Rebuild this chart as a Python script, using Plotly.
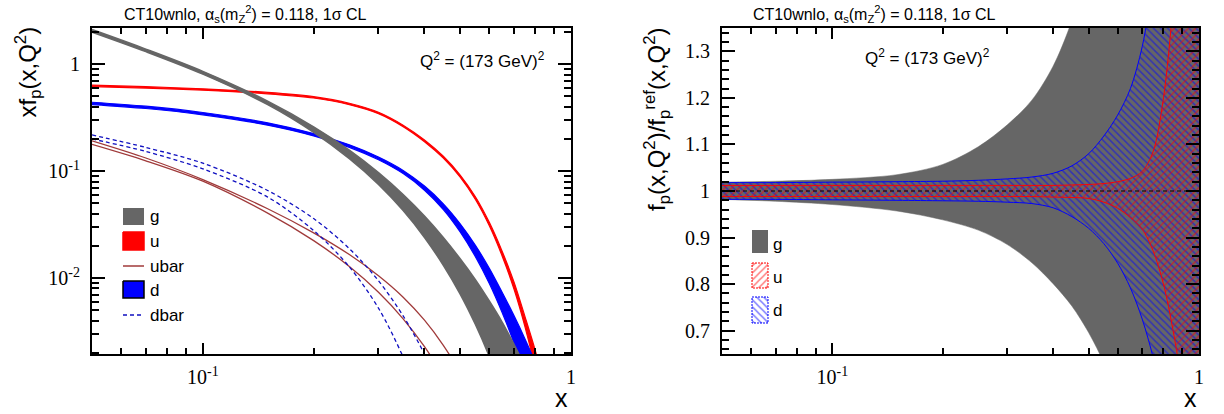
import math
import plotly.graph_objects as go

W, H = 1224, 414

# ---------------- data ----------------
# left panel: x f(x, Q^2)
x_pdf = [0.05, 0.07, 0.1, 0.15, 0.2, 0.25, 0.3, 0.35, 0.4, 0.45, 0.5,
         0.55, 0.6, 0.65, 0.7, 0.75, 0.8, 0.85, 0.9]
x_g = x_pdf[:16]
g_lo = [1.994, 1.31, 0.807, 0.419, 0.2304, 0.1305, 0.07504, 0.04275, 0.02397, 0.01316,
        0.00709, 0.00368, 0.001846, 0.000888, 0.000418, 0.000189]
g_hi = [2.108, 1.384, 0.857, 0.451, 0.2597, 0.1569, 0.09669, 0.06036, 0.038, 0.02395,
        0.01516, 0.00967, 0.00611, 0.00388, 0.002405, 0.001497]
u_lo = [0.6176, 0.5979, 0.5713, 0.5289, 0.4827, 0.4186, 0.3448, 0.2608, 0.1885, 0.1323,
        0.0878, 0.0543, 0.0308, 0.0161, 0.0079, 0.0035, 0.0014, 0.000476, 0.000114]
u_hi = [0.6364, 0.6161, 0.5887, 0.5451, 0.4974, 0.4314, 0.3553, 0.2692, 0.1955, 0.1377,
        0.092, 0.0576, 0.0332, 0.01785, 0.0092, 0.00436, 0.0021, 0.00094, 0.00032]
d_lo = [0.4193, 0.3851, 0.3364, 0.2691, 0.2135, 0.1669, 0.1277, 0.0948, 0.0663, 0.0437,
        0.0270, 0.01584, 0.00889, 0.00476, 0.00247, 0.00121, 0.000561, 0.000248, 0.000103]
d_hi = [0.4408, 0.4049, 0.3536, 0.2829, 0.2245, 0.1761, 0.1355, 0.1016, 0.0725, 0.0495,
        0.0322, 0.02025, 0.01233, 0.00736, 0.00446, 0.0027, 0.00163, 0.00099, 0.000586]
x_ubar = x_pdf[:12]
ubar_lo = [0.178, 0.125, 0.0806, 0.0405, 0.0224, 0.01283, 0.00737, 0.00416, 0.00228,
           0.00121, 0.000615, 0.0003]
ubar_hi = [0.192, 0.1327, 0.0834, 0.0445, 0.0265, 0.0166, 0.01052, 0.00663, 0.00404,
           0.00235, 0.0013, 0.00068]
x_dbar_lo = x_pdf[:9]
dbar_lo = [0.200, 0.1528, 0.105, 0.0572, 0.02785, 0.01274, 0.00523, 0.00183, 0.000588]
x_dbar_hi = x_pdf[:10]
dbar_hi = [0.218, 0.1666, 0.1187, 0.0659, 0.036, 0.01885, 0.00944, 0.00443, 0.00194, 0.00077]

# right panel: ratio to reference fit
x_ratio = [0.05, 0.07, 0.1, 0.15, 0.2, 0.25, 0.3, 0.35, 0.4, 0.45, 0.5,
           0.55, 0.6, 0.65, 0.7, 0.75, 0.8, 0.85, 0.9, 0.95, 1.0]
g_ratio_lo = [0.982, 0.978, 0.971, 0.957, 0.938, 0.916, 0.885, 0.846, 0.801, 0.753, 0.696,
              0.631, 0.554, 0.465, 0.364, 0.25, 0.115, 0.02, -0.1, -0.2, -0.3]
g_ratio_hi = [1.019, 1.021, 1.025, 1.035, 1.057, 1.095, 1.142, 1.195, 1.268, 1.366, 1.494,
              1.647, 1.835, 2.1, 2.4, 2.8, 3.2, 3.6, 4.0, 4.4, 4.8]
d_ratio_lo = [0.982, 0.982, 0.981, 0.980, 0.979, 0.978, 0.976, 0.973, 0.964, 0.945, 0.920,
              0.887, 0.845, 0.792, 0.725, 0.642, 0.54, 0.42, 0.28, 0.13, 0.0]
d_ratio_hi = [1.018, 1.018, 1.019, 1.020, 1.021, 1.023, 1.026, 1.030, 1.038, 1.054, 1.080,
              1.118, 1.163, 1.22, 1.31, 1.45, 1.62, 1.85, 2.1, 2.4, 2.7]
u_ratio_lo = [0.988, 0.988, 0.988, 0.988, 0.988, 0.988, 0.988, 0.988, 0.987, 0.986, 0.984,
              0.976, 0.963, 0.943, 0.918, 0.871, 0.80, 0.70, 0.58, 0.42, 0.21]
u_ratio_hi = [1.012, 1.012, 1.012, 1.012, 1.012, 1.012, 1.012, 1.012, 1.012, 1.013, 1.014,
              1.016, 1.020, 1.027, 1.042, 1.085, 1.2, 1.4, 1.65, 1.95, 2.3]
ratio_ref = [1.0, 1.0]
x_ref = [0.05, 1.0]

title_text = "CT10wnlo, α<sub>s</sub>(m<sub>Z</sub><sup>2</sup>) = 0.118, 1σ CL"
q2_text = "Q<sup>2</sup> = (173 GeV)<sup>2</sup>"

# ---------------- styles ----------------
GRAY = "#666666"
RED = "#ff0000"
BLUE = "#0000ff"
BROWN = "#a03a3a"
DBLUE = "#1010c0"
SANS = "Liberation Sans, Arial, sans-serif"
SERIF = "Liberation Serif, Times New Roman, serif"
SM = 0.9
HATCH_SOL = 0.3

fig = go.Figure()


def band(x, lo, hi, xa, ya, color, edge_w, fillcolor=None, pattern=None):
    fig.add_trace(go.Scatter(x=x, y=lo, mode="lines", xaxis=xa, yaxis=ya,
                             line=dict(color=color, width=edge_w, shape="spline", smoothing=SM),
                             showlegend=False, hoverinfo="skip"))
    kw = {}
    if pattern is not None:
        kw["fillpattern"] = pattern
    fig.add_trace(go.Scatter(x=x, y=hi, mode="lines", xaxis=xa, yaxis=ya, fill="tonexty",
                             fillcolor=fillcolor if fillcolor else "rgba(0,0,0,0)",
                             line=dict(color=color, width=edge_w, shape="spline", smoothing=SM),
                             showlegend=False, hoverinfo="skip", **kw))


def hatch(shape, color):
    return dict(shape=shape, fgcolor=color, bgcolor="rgba(0,0,0,0)", size=5,
                solidity=HATCH_SOL, fillmode="overlay")


# left panel
band(x_pdf, u_lo, u_hi, "x", "y", RED, 1.2, fillcolor=RED)
band(x_pdf, d_lo, d_hi, "x", "y", BLUE, 1.2, fillcolor=BLUE)
for xs, ys in ((x_ubar, ubar_lo), (x_ubar, ubar_hi)):
    fig.add_trace(go.Scatter(x=xs, y=ys, mode="lines", xaxis="x", yaxis="y",
                             line=dict(color=BROWN, width=1.3, shape="spline", smoothing=SM),
                             showlegend=False, hoverinfo="skip"))
for xs, ys in ((x_dbar_lo, dbar_lo), (x_dbar_hi, dbar_hi)):
    fig.add_trace(go.Scatter(x=xs, y=ys, mode="lines", xaxis="x", yaxis="y",
                             line=dict(color=DBLUE, width=1.3, dash="4px,3px", shape="spline", smoothing=SM),
                             showlegend=False, hoverinfo="skip"))
band(x_g, g_lo, g_hi, "x", "y", GRAY, 1.5, fillcolor=GRAY)

# right panel
band(x_ratio, g_ratio_lo, g_ratio_hi, "x2", "y2", GRAY, 0.5, fillcolor=GRAY)
band(x_ratio, d_ratio_lo, d_ratio_hi, "x2", "y2", BLUE, 1.0, pattern=hatch("\\", BLUE))
band(x_ratio, u_ratio_lo, u_ratio_hi, "x2", "y2", RED, 1.0, pattern=hatch("/", RED))
fig.add_trace(go.Scatter(x=x_ref, y=ratio_ref, mode="lines", xaxis="x2", yaxis="y2",
                         line=dict(color="black", width=1, dash="4px,3px"),
                         showlegend=False, hoverinfo="skip"))


# ---------------- legends (pixel overlay axes) ----------------
def box(x0, x1, y0, y1, fillcolor, line, pattern=None):
    kw = {}
    if pattern is not None:
        kw["fillpattern"] = pattern
    fig.add_trace(go.Scatter(x=[x0, x1, x1, x0, x0], y=[y0, y0, y1, y1, y0], mode="lines",
                             xaxis="x3", yaxis="y3", fill="toself", fillcolor=fillcolor,
                             line=line, showlegend=False, hoverinfo="skip", **kw))


def hline(x0, x1, y, line):
    fig.add_trace(go.Scatter(x=[x0, x1], y=[y, y], mode="lines", xaxis="x3", yaxis="y3",
                             line=line, showlegend=False, hoverinfo="skip"))


box(123, 144, 208, 225, GRAY, dict(width=0, color=GRAY))
box(123, 144, 232, 250, RED, dict(width=1.5, color=RED))
hline(123, 144, 266, dict(color=BROWN, width=1.5))
box(123, 144, 281, 298, BLUE, dict(width=1.5, color="black"))
hline(123, 144, 315, dict(color=DBLUE, width=1.5, dash="4px,3px"))

box(752, 768, 230, 253, GRAY, dict(width=0, color=GRAY))
box(752, 768, 263, 288, "rgba(0,0,0,0)", dict(width=1, color=RED, dash="2px,1px"),
    pattern=hatch("/", RED))
box(752, 768, 297, 323, "rgba(0,0,0,0)", dict(width=1, color=BLUE, dash="2px,1px"),
    pattern=hatch("\\", BLUE))

ann = []


def text(x, y, s, size, xanchor="center", yanchor="middle", angle=0, family=SANS):
    ann.append(dict(x=x, y=y, xref="x3", yref="y3", text=s, showarrow=False,
                    xanchor=xanchor, yanchor=yanchor, textangle=angle,
                    font=dict(family=family, size=size, color="black")))


for lbl, yy in (("g", 216), ("u", 241), ("ubar", 266), ("d", 290), ("dbar", 315)):
    text(148, yy, lbl, 17, xanchor="left")
for lbl, yy in (("g", 244), ("u", 277), ("d", 310)):
    text(771, yy, lbl, 17, xanchor="left")

text(245, 14, title_text, 16)
text(874, 14, title_text, 16)
text(482, 60, q2_text, 17)
text(927, 57, q2_text, 17)
text(27, 25, "xf<sub>p</sub>(x,Q<sup>2</sup>)", 24, yanchor="top", angle=-90)
text(657, 25, "f<sub>p</sub>(x,Q<sup>2</sup>)/f<sub>p</sub><sup>ref</sup>(x,Q<sup>2</sup>)", 24,
     yanchor="top", angle=-90)
text(561, 398, "x", 25)
text(1190, 398, "x", 25)

# ---------------- axes ----------------
PL = dict(x0=92, x1=571, y0=28, y1=354)
PR = dict(x0=722, x1=1199, y0=28, y1=354)

x_minor = [0.06, 0.07, 0.08, 0.09, 0.2, 0.3, 0.4, 0.5, 0.6, 0.7, 0.8, 0.9]
y_minor = [0.002, 0.003, 0.004, 0.005, 0.006, 0.007, 0.008, 0.009,
           0.02, 0.03, 0.04, 0.05, 0.06, 0.07, 0.08, 0.09,
           0.2, 0.3, 0.4, 0.5, 0.6, 0.7, 0.8, 0.9, 2]
r_minor = [round(0.66 + 0.02 * i, 2) for i in range(35)]

common = dict(ticks="inside", tickwidth=1.5, tickcolor="black", showline=True, linewidth=2,
              linecolor="black", mirror="allticks", showgrid=False, zeroline=False,
              tickfont=dict(family=SERIF, size=20, color="black"))


def xlog(p, anchor):
    return dict(type="log", domain=[p["x0"] / W, p["x1"] / W], anchor=anchor,
                range=[math.log10(0.05), 0], tickmode="array", tickvals=[0.1, 1],
                ticktext=["10<sup>-1</sup>", "1"], ticklen=11, ticklabelstandoff=4,
                minor=dict(tickmode="array", tickvals=x_minor, ticks="inside", ticklen=6,
                           tickwidth=1.5, tickcolor="black", showgrid=False),
                **common)


ydom = [1 - PL["y1"] / H, 1 - PL["y0"] / H]

fig.update_layout(
    width=W, height=H,
    margin=dict(l=0, r=0, t=0, b=0, autoexpand=False),
    paper_bgcolor="white", plot_bgcolor="rgba(0,0,0,0)",
    showlegend=False,
    xaxis=xlog(PL, "y"),
    yaxis=dict(type="log", domain=ydom, anchor="x",
               range=[math.log10(0.00195), math.log10(2.18)], tickmode="array",
               tickvals=[0.01, 0.1, 1], ticktext=["10<sup>-2</sup>", "10<sup>-1</sup>", "1"],
               ticklen=13, ticklabelstandoff=6,
               minor=dict(tickmode="array", tickvals=y_minor, ticks="inside", ticklen=7,
                          tickwidth=1.5, tickcolor="black", showgrid=False),
               **common),
    xaxis2=xlog(PR, "y2"),
    yaxis2=dict(type="linear", domain=ydom, anchor="x2", range=[0.65, 1.35],
                tickmode="array", tickvals=[0.7, 0.8, 0.9, 1.0, 1.1, 1.2, 1.3],
                ticktext=["0.7", "0.8", "0.9", "1", "1.1", "1.2", "1.3"],
                ticklen=13, ticklabelstandoff=6,
                minor=dict(tickmode="array", tickvals=r_minor, ticks="inside", ticklen=7,
                           tickwidth=1.5, tickcolor="black", showgrid=False),
                **common),
    xaxis3=dict(domain=[0, 1], range=[0, W], visible=False, fixedrange=True, anchor="y3"),
    yaxis3=dict(domain=[0, 1], range=[H, 0], visible=False, fixedrange=True, anchor="x3"),
    annotations=ann,
)

fig.write_html("out.html")
